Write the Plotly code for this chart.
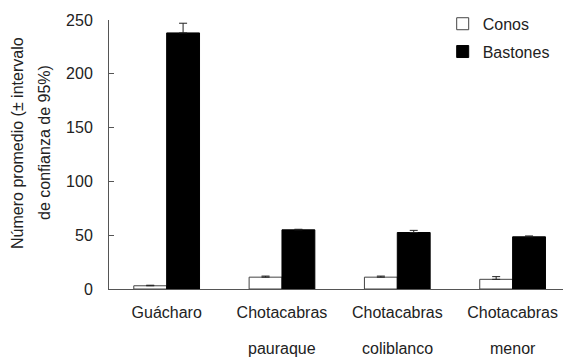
import plotly.graph_objects as go

categories = ["Guácharo", "Chotacabras", "Chotacabras", "Chotacabras"]
second_line = ["", "pauraque", "coliblanco", "menor"]
conos = [3, 11, 11, 9]
conos_err = [0.5, 1, 1, 2.5]
bastones = [238, 55, 52.5, 48.5]
bastones_err = [9, 0.5, 2, 0.8]
yticks = [0, 50, 100, 150, 200, 250]

x = list(range(len(categories)))
FONT = "Liberation Sans, Arial, sans-serif"
TXT = "#222222"

fig = go.Figure()
fig.add_trace(go.Bar(
    x=x, y=conos, name="Conos",
    marker=dict(color="white", line=dict(color="#444444", width=1)),
    error_y=dict(type="data", array=conos_err, arrayminus=[0] * len(conos_err), symmetric=False,
                 visible=True, color="#222222", thickness=1, width=4),
    legendgroup="a",
))
fig.add_trace(go.Bar(
    x=x, y=bastones, name="Bastones",
    marker=dict(color="black", line=dict(color="black", width=1)),
    error_y=dict(type="data", array=bastones_err, arrayminus=[0] * len(bastones_err), symmetric=False,
                 visible=True, color="#222222", thickness=1, width=4),
    legendgroup="b",
))

annotations = []
for i, t in enumerate(second_line):
    if t:
        annotations.append(dict(x=i, xref="x", y=0, yref="paper", yshift=-59,
                                text=t, showarrow=False, yanchor="middle",
                                font=dict(family=FONT, size=16, color=TXT)))
annotations.append(dict(x=0, xref="paper", xshift=-91, y=0.543, yref="paper",
                        text="Número promedio (± intervalo", textangle=-90, showarrow=False,
                        xanchor="center", yanchor="middle",
                        font=dict(family=FONT, size=16, color=TXT)))
annotations.append(dict(x=0, xref="paper", xshift=-64, y=0.543, yref="paper",
                        text="de confianza de 95%)", textangle=-90, showarrow=False,
                        xanchor="center", yanchor="middle",
                        font=dict(family=FONT, size=16, color=TXT)))

fig.update_layout(
    width=563, height=358,
    margin=dict(l=109, r=0, t=20, b=69, autoexpand=False),
    paper_bgcolor="white", plot_bgcolor="white",
    barmode="group", bargap=0.43, bargroupgap=0,
    font=dict(family=FONT, size=16, color=TXT),
    showlegend=True,
    legend=dict(x=0.735, y=1.049, xanchor="left", yanchor="top",
                traceorder="grouped", tracegroupgap=4,
                font=dict(family=FONT, size=16, color=TXT),
                bgcolor="rgba(0,0,0,0)"),
    annotations=annotations,
    xaxis=dict(tickmode="array", tickvals=x, ticktext=categories,
               range=[-0.5, 3.437], showline=True, linecolor="#555555", linewidth=1,
               ticks="", showgrid=False, zeroline=False, ticklabelstandoff=9,
               tickfont=dict(family=FONT, size=16, color=TXT)),
    yaxis=dict(range=[0, 250], tickvals=yticks, showline=True, linecolor="#555555", linewidth=1,
               ticks="inside", ticklen=5, tickcolor="#555555", showgrid=False, zeroline=False,
               ticklabelstandoff=12, tickfont=dict(family=FONT, size=16, color=TXT)),
)

fig.write_html("out.html", config={"displayModeBar": False},
               post_script="document.body.style.margin='0';document.body.style.overflow='hidden';")
